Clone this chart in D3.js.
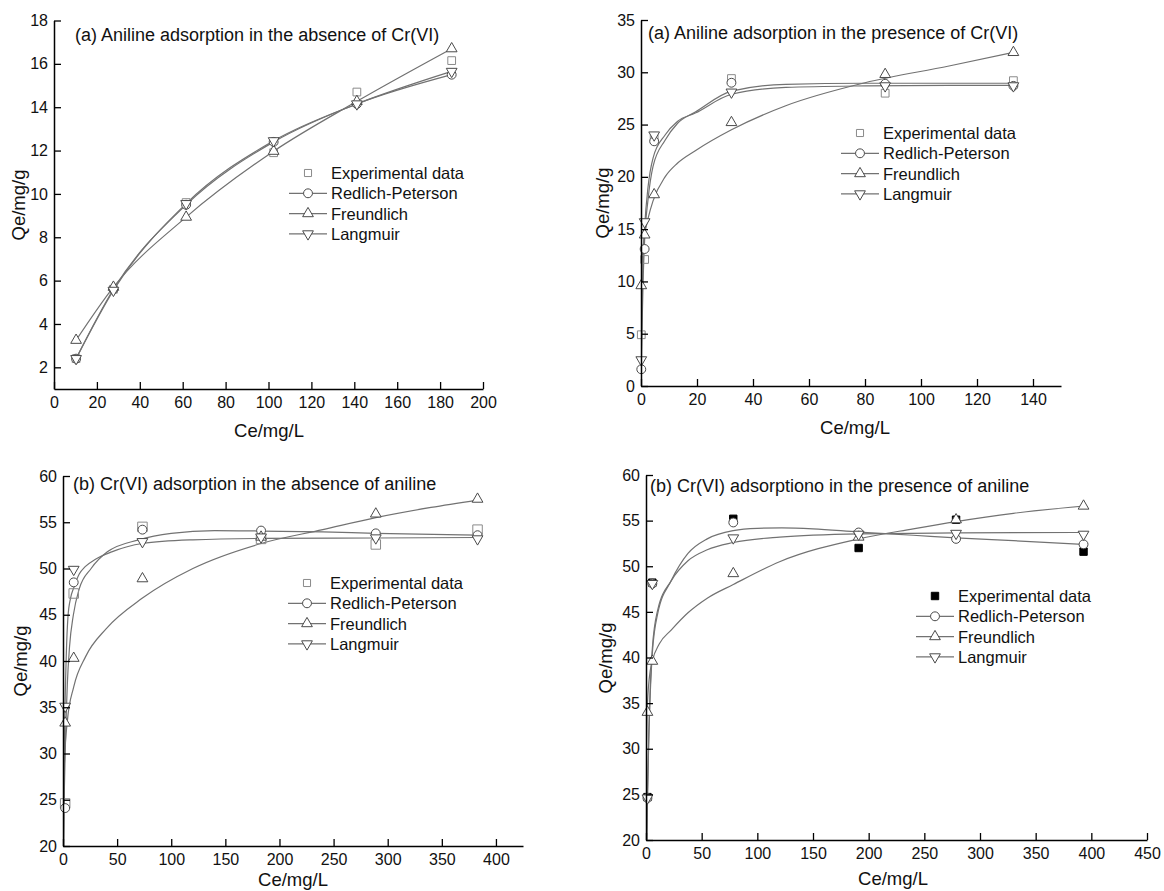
<!DOCTYPE html>
<html>
<head>
<meta charset="utf-8">
<script src="https://cdn.jsdelivr.net/npm/d3@7"></script>
<style>
  body { margin: 0; background: #fff; }
  svg { font-family: "Liberation Sans", Arial, sans-serif; }
</style>
</head>
<body>
<div id="chart"></div>
<script>
// ---- data ----
const seriesNames = ['Experimental data', 'Redlich-Peterson', 'Freundlich', 'Langmuir'];

// (a) aniline, absence of Cr(VI)
const a1X   = [10.3, 27.7, 61.6, 102.4, 141.2, 185.4];
const a1Exp = [2.4, 5.6, 9.6, 11.9, 14.7, 16.15];
const a1RP  = [2.4, 5.6, 9.5, 12.4, 14.15, 15.5];
const a1Fr  = [3.25, 5.7, 8.93, 11.97, 14.27, 16.7];
const a1La  = [2.4, 5.55, 9.55, 12.45, 14.15, 15.65];

// (a) aniline, presence of Cr(VI)
const a2X   = [0.1, 1.3, 4.7, 32.3, 87.2, 133];
const a2Exp = [4.9, 12.1, 23.7, 29.4, 28.0, 29.2];
const a2RP  = [1.6, 13.1, 23.4, 29.0, 28.9, 28.7];
const a2Fr  = [9.6, 14.45, 18.3, 25.2, 29.8, 31.9];
const a2La  = [2.5, 15.7, 24.0, 28.1, 28.7, 28.7];
const a2RPCurve = [[0,0],[0.05,0.8],[0.1,1.6],[0.4,6],[0.8,10.5],[1.3,14],[2.5,17.8],[4.3,21.0],[8.6,23.5],[13,25.1],[19.4,26.2],[32.3,28.2],[51.7,28.85],[80,28.95],[110,28.95],[133,28.95]];
const a2FrCurve = [[0,0],[0.05,7.5],[0.1,9.6],[0.4,11.9],[0.8,13.4],[1.3,14.45],[2.5,16.0],[4.3,17.7],[8.6,20.0],[13,21.3],[19.4,22.5],[32.3,24.5],[51.7,26.8],[80,29.0],[110,30.6],[133,31.9]];
const a2LaCurve = [[0,0],[0.05,1.3],[0.1,2.5],[0.4,8],[0.8,12.5],[1.3,15.2],[2.5,19.0],[4.3,21.8],[8.6,24.0],[13,25.3],[19.4,26.1],[32.3,27.9],[51.7,28.55],[80,28.7],[110,28.75],[133,28.75]];

// (b) Cr(VI), absence of aniline
const b1X   = [2, 9.9, 73.4, 183, 289, 383];
const b1Exp = [24.6, 47.3, 54.5, 53.2, 52.6, 54.2];
const b1RP  = [24.1, 48.5, 54.2, 54.1, 53.8, 53.6];
const b1Fr  = [33.3, 40.3, 48.9, 53.4, 55.9, 57.5];
const b1La  = [35.1, 49.9, 52.9, 53.4, 53.3, 53.2];
const b1RPCurve = [[0.6,20],[1,24.1],[2,30],[4,37.5],[6,41.5],[9.6,45],[15,47.8],[26,50],[41,51.8],[70,53.1],[100,53.8],[140,54.1],[183,54.05],[240,53.95],[289,53.8],[383,53.6]];
const b1FrCurve = [[0.1,20.7],[0.5,25.3],[1.5,29.5],[4,33.5],[9.9,37.2],[21,40.5],[40,43.5],[73.4,46.8],[120,50.0],[183,52.7],[240,54.2],[289,55.5],[340,56.6],[383,57.4]];
const b1LaCurve = [[0.5,20],[1,27.5],[1.5,32.5],[3,40.5],[4.6,44.8],[7,46.8],[9.9,47.9],[15,49.4],[20.5,50.2],[30,51.0],[45,51.8],[73.4,52.7],[120,53.1],[183,53.25],[289,53.3],[383,53.35]];

// (b) Cr(VI), presence of aniline
const b2X   = [1.3, 5.7, 78.4, 191, 278.5, 393];
const b2Exp = [24.7, 48.2, 55.2, 52.0, 55.1, 51.6];
const b2RP  = [24.6, 48.1, 54.8, 53.7, 53.0, 52.4];
const b2Fr  = [34.0, 39.6, 49.2, 53.2, 55.1, 56.6];
const b2La  = [24.6, 48.1, 53.1, 53.5, 53.6, 53.5];
const b2RPCurve = [[0.7,20],[1.3,24.6],[2.5,31],[5.7,40.5],[10.5,44.8],[22.6,48.4],[37.7,51.4],[55,53.0],[78.4,53.9],[100,54.15],[122,54.2],[150,54.1],[191,53.75],[240,53.4],[278.5,53.1],[330,52.8],[393,52.4]];
const b2FrCurve = [[0.05,20.5],[0.3,27],[1,34],[3,37.8],[5.7,39.6],[12,41.5],[22.6,43],[37.7,44.9],[55,46.5],[78.4,48.0],[120,50.5],[191,53.0],[240,54.1],[278.5,54.9],[330,55.8],[393,56.6]];
const b2LaCurve = [[0.7,20],[1.3,24.6],[2.5,31.5],[5.7,41.0],[10.5,45.2],[22.6,48.4],[37.7,50.6],[55,51.8],[78.4,52.6],[120,53.2],[191,53.55],[278.5,53.65],[393,53.7]];

const zip = (xs, ys) => xs.map((v, i) => [v, ys[i]]);

// ---- panel layout ----
const panels = [
  {
    title: '(a) Aniline adsorption in the absence of Cr(VI)',
    xDomain: [0, 200], xStep: 20, yDomain: [1, 18], yStep: 2, yFirst: 2,
    xRange: [54, 483], yRange: [389, 20.5],
    x: a1X, exp: a1Exp, rp: a1RP, fr: a1Fr, la: a1La,
    curves: [zip(a1X, a1RP), zip(a1X, a1Fr), zip(a1X, a1La)],
    titlePos: [75, 41], xTitlePos: [269, 437], yTitlePos: [25, 205],
    legend: { x: 308, y: 173, filled: false },
    expSize: 60
  },
  {
    title: '(a) Aniline adsorption in the presence of Cr(VI)',
    xDomain: [0, 150], xStep: 20, yDomain: [0, 35], yStep: 5, yFirst: 0,
    xRange: [641, 1061], yRange: [386, 20],
    x: a2X, exp: a2Exp, rp: a2RP, fr: a2Fr, la: a2La,
    curves: [a2RPCurve, a2FrCurve, a2LaCurve],
    titlePos: [648, 39], xTitlePos: [855, 434], yTitlePos: [609, 203],
    legend: { x: 860, y: 133, filled: false },
    expSize: 60
  },
  {
    title: '(b) Cr(VI) adsorption in the absence of aniline',
    xDomain: [0, 425], xStep: 50, yDomain: [20, 60], yStep: 5, yFirst: 20,
    xRange: [63, 523], yRange: [846, 476],
    x: b1X, exp: b1Exp, rp: b1RP, fr: b1Fr, la: b1La,
    curves: [b1RPCurve, b1FrCurve, b1LaCurve],
    titlePos: [73, 490], xTitlePos: [293, 886], yTitlePos: [27, 661],
    legend: { x: 307, y: 583, filled: false },
    expSize: 90
  },
  {
    title: '(b) Cr(VI) adsorptiono in the presence of aniline',
    xDomain: [0, 450], xStep: 50, yDomain: [20, 60], yStep: 5, yFirst: 20,
    xRange: [646, 1147], yRange: [840, 475],
    x: b2X, exp: b2Exp, rp: b2RP, fr: b2Fr, la: b2La,
    curves: [b2RPCurve, b2FrCurve, b2LaCurve],
    titlePos: [650, 492], xTitlePos: [893, 885], yTitlePos: [612, 658],
    legend: { x: 935, y: 596, filled: true },
    expSize: 55
  }
];

const lineColor = '#727272';
const markColor = '#4a4a4a';
const expColor = '#8a8a8a';

const svg = d3.select('#chart').append('svg')
  .attr('width', 1164)
  .attr('height', 891);

const symCircle = d3.symbol().type(d3.symbolCircle).size(62);
const symTri = d3.symbol().type(d3.symbolTriangle).size(50);
const symSquare = size => d3.symbol().type(d3.symbolSquare).size(size);

panels.forEach((p, i) => drawPanel(p, i));

function drawPanel(p, idx) {
  const x = d3.scaleLinear().domain(p.xDomain).range(p.xRange);
  const y = d3.scaleLinear().domain(p.yDomain).range(p.yRange);
  const g = svg.append('g');

  // clip to plot area
  const clipId = 'clip' + idx;
  svg.append('clipPath').attr('id', clipId)
    .append('rect')
    .attr('x', p.xRange[0]).attr('y', p.yRange[1] - 5)
    .attr('width', p.xRange[1] - p.xRange[0] + 5)
    .attr('height', p.yRange[0] - p.yRange[1] + 5);

  // tick values
  const eps = 1e-6;
  const xMajor = d3.range(p.xDomain[0], p.xDomain[1] + eps, p.xStep);
  const xMinor = d3.range(p.xDomain[0] + p.xStep / 2, p.xDomain[1] + eps, p.xStep);
  const yMajor = d3.range(p.yFirst, p.yDomain[1] + eps, p.yStep);
  const yMinor = d3.range(p.yFirst + p.yStep / 2, p.yDomain[1] - eps, p.yStep);

  // fit curves
  const line = d3.line()
    .x(d => x(d[0]))
    .y(d => y(d[1]))
    .curve(d3.curveMonotoneX);

  g.append('g').attr('clip-path', `url(#${clipId})`)
    .selectAll('path.fit')
    .data(p.curves)
    .join('path')
    .attr('class', 'fit')
    .attr('d', line)
    .attr('fill', 'none')
    .attr('stroke', lineColor)
    .attr('stroke-width', 1.2);

  // experimental points
  g.selectAll('path.exp')
    .data(zip(p.x, p.exp))
    .join('path')
    .attr('class', 'exp')
    .attr('transform', d => `translate(${x(d[0])},${y(d[1])})`)
    .attr('d', symSquare(p.expSize)())
    .attr('fill', p.legend.filled ? '#000' : 'none')
    .attr('stroke', p.legend.filled ? '#000' : expColor)
    .attr('stroke-width', 1);

  // model points
  const models = [
    { vals: p.rp, d: symCircle(), rot: 0 },
    { vals: p.fr, d: symTri(), rot: 0 },
    { vals: p.la, d: symTri(), rot: 180 }
  ];
  models.forEach((m, k) => {
    g.selectAll('path.m' + k)
      .data(zip(p.x, m.vals))
      .join('path')
      .attr('class', 'm' + k)
      .attr('transform', d => `translate(${x(d[0])},${y(d[1])}) rotate(${m.rot})`)
      .attr('d', m.d)
      .attr('fill', '#fff')
      .attr('stroke', markColor)
      .attr('stroke-width', 1);
  });

  // axes, inward ticks
  const xAxis = d3.axisBottom(x).tickValues(xMajor)
    .tickSizeInner(-7).tickSizeOuter(0).tickPadding(8)
    .tickFormat(d3.format('d'));
  const xAxisMinor = d3.axisBottom(x).tickValues(xMinor)
    .tickSizeInner(-4).tickSizeOuter(0).tickFormat('');
  const yAxis = d3.axisLeft(y).tickValues(yMajor)
    .tickSizeInner(-7).tickSizeOuter(0).tickPadding(6)
    .tickFormat(d3.format('d'));
  const yAxisMinor = d3.axisLeft(y).tickValues(yMinor)
    .tickSizeInner(-4).tickSizeOuter(0).tickFormat('');

  const xg = g.append('g').attr('transform', `translate(0,${p.yRange[0]})`);
  xg.call(xAxisMinor);
  xg.call(xAxis);
  const yg = g.append('g').attr('transform', `translate(${p.xRange[0]},0)`);
  yg.call(yAxisMinor);
  yg.call(yAxis);

  g.selectAll('.domain').attr('stroke', '#000').attr('stroke-width', 1.5);
  g.selectAll('.tick line').attr('stroke', '#000').attr('stroke-width', 1.3);
  g.selectAll('.tick text')
    .attr('fill', '#111')
    .style('font-size', '16px')
    .style('font-family', '"Liberation Sans", Arial, sans-serif');

  // axis titles
  g.append('text')
    .attr('x', p.xTitlePos[0]).attr('y', p.xTitlePos[1])
    .attr('text-anchor', 'middle')
    .style('font-size', '18.5px')
    .attr('fill', '#111')
    .text('Ce/mg/L');

  g.append('text')
    .attr('transform', `translate(${p.yTitlePos[0]},${p.yTitlePos[1]}) rotate(-90)`)
    .attr('text-anchor', 'middle')
    .style('font-size', '18.5px')
    .attr('fill', '#111')
    .text('Qe/mg/g');

  // panel title
  g.append('text')
    .attr('x', p.titlePos[0]).attr('y', p.titlePos[1])
    .style('font-size', '18px')
    .attr('fill', '#111')
    .text(p.title);

  // legend
  const lg = g.append('g').attr('transform', `translate(${p.legend.x},${p.legend.y})`);
  const rowH = 20.3;
  seriesNames.forEach((name, k) => {
    const row = lg.append('g').attr('transform', `translate(0,${k * rowH})`);
    if (k > 0) {
      row.append('line')
        .attr('x1', -19).attr('x2', 19)
        .attr('stroke', lineColor).attr('stroke-width', 1.2);
    }
    const sym = row.append('path');
    if (k === 0) {
      sym.attr('d', symSquare(p.legend.filled ? 55 : 50)())
        .attr('fill', p.legend.filled ? '#000' : 'none')
        .attr('stroke', p.legend.filled ? '#000' : expColor);
    } else {
      sym.attr('d', k === 1 ? symCircle() : symTri())
        .attr('transform', k === 3 ? 'rotate(180)' : null)
        .attr('fill', '#fff')
        .attr('stroke', markColor);
    }
    row.append('text')
      .attr('x', 23).attr('y', 6)
      .style('font-size', '16.5px')
      .attr('fill', '#111')
      .text(name);
  });
}
</script>
</body>
</html>
